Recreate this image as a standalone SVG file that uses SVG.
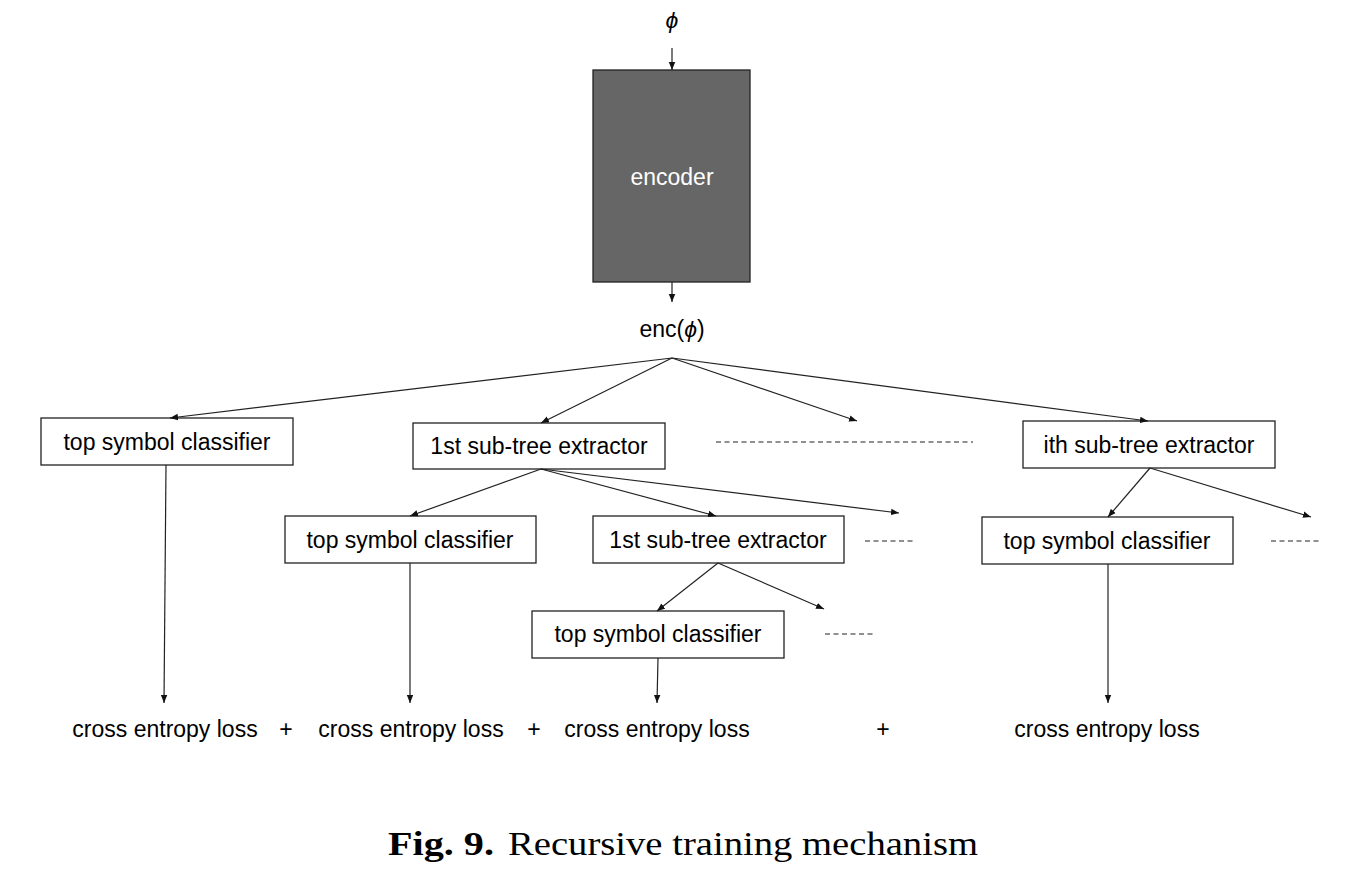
<svg xmlns="http://www.w3.org/2000/svg" width="1359" height="882" viewBox="0 0 1359 882">
<defs>
<marker id="ah" viewBox="0 0 10 10" refX="10" refY="5" markerWidth="8" markerHeight="8" markerUnits="userSpaceOnUse" orient="auto">
<path d="M0,1 L10,5 L0,9 z" fill="#111"/>
</marker>
<style>
.box{fill:#fff;stroke:#222;stroke-width:1.3}
.lbl{font-family:"Liberation Sans",Arial,sans-serif;font-size:23px;fill:#000;text-anchor:middle}
.c{stroke:#222;stroke-width:1.2;fill:none}
.a{stroke:#222;stroke-width:1.2;fill:none;marker-end:url(#ah)}
.d{stroke:#222;stroke-width:1.2;stroke-dasharray:5 3.5;fill:none}
</style>
</defs>
<rect width="1359" height="882" fill="#fff"/>

<text class="lbl" x="672" y="28" font-style="italic">ϕ</text>

<g id="encoder">
<rect x="593" y="70" width="157" height="212" fill="#666" stroke="#222" stroke-width="1.3"/>
<text class="lbl" x="672" y="185" style="fill:#fff">encoder</text>
</g>
<g id="enc-label"><text class="lbl" x="672" y="337">enc(<tspan font-style="italic">ϕ</tspan>)</text></g>

<g id="tsc1"><rect class="box" x="41" y="418" width="252" height="47"/><text class="lbl" x="167" y="450">top symbol classifier</text></g>
<g id="ste1"><rect class="box" x="413" y="423" width="252" height="46"/><text class="lbl" x="539" y="454">1st sub-tree extractor</text></g>
<g id="ithste"><rect class="box" x="1023" y="421" width="252" height="47"/><text class="lbl" x="1149" y="453">ith sub-tree extractor</text></g>
<g id="tsc2"><rect class="box" x="285" y="516" width="251" height="47"/><text class="lbl" x="410" y="548">top symbol classifier</text></g>
<g id="ste2"><rect class="box" x="593" y="516" width="251" height="47"/><text class="lbl" x="718" y="548">1st sub-tree extractor</text></g>
<g id="tsc3"><rect class="box" x="532" y="611" width="252" height="47"/><text class="lbl" x="658" y="642">top symbol classifier</text></g>
<g id="tsc4"><rect class="box" x="982" y="517" width="251" height="47"/><text class="lbl" x="1107" y="549">top symbol classifier</text></g>

<g id="losses">
<text class="lbl" x="165" y="737">cross entropy loss</text>
<text class="lbl" x="286" y="737">+</text>
<text class="lbl" x="411" y="737">cross entropy loss</text>
<text class="lbl" x="534" y="737">+</text>
<text class="lbl" x="657" y="737">cross entropy loss</text>
<text class="lbl" x="883" y="737">+</text>
<text class="lbl" x="1107" y="737">cross entropy loss</text>
</g>

<g id="connectors">
<line class="a" x1="672" y1="48" x2="672" y2="70"/>
<line class="a" x1="672" y1="282" x2="672" y2="302"/>
<line class="a" x1="672" y1="358" x2="170" y2="418"/>
<line class="a" x1="672" y1="358" x2="541" y2="423"/>
<line class="a" x1="672" y1="358" x2="857" y2="421"/>
<line class="a" x1="672" y1="358" x2="1148" y2="421"/>
<line class="d" x1="716" y1="442" x2="973" y2="442"/>
<line class="a" x1="541" y1="469" x2="410" y2="516"/>
<line class="a" x1="541" y1="469" x2="716" y2="516"/>
<line class="a" x1="541" y1="469" x2="899" y2="513"/>
<line class="d" x1="865" y1="541" x2="914" y2="541"/>
<line class="a" x1="718" y1="563" x2="657" y2="611"/>
<line class="a" x1="718" y1="563" x2="824" y2="609"/>
<line class="d" x1="825" y1="634" x2="873" y2="634"/>
<line class="a" x1="1150" y1="468" x2="1108" y2="517"/>
<line class="a" x1="1150" y1="468" x2="1311" y2="517"/>
<line class="d" x1="1271" y1="541" x2="1320" y2="541"/>
<line class="a" x1="166" y1="465" x2="164" y2="703"/>
<line class="a" x1="410" y1="563" x2="410" y2="703"/>
<line class="a" x1="658" y1="658" x2="657" y2="703"/>
<line class="a" x1="1108" y1="564" x2="1108" y2="703"/>
</g>

<g id="caption" font-family="'Liberation Serif','Times New Roman',serif" font-size="34" fill="#000">
<text x="388" y="855" font-weight="bold" textLength="106" lengthAdjust="spacingAndGlyphs">Fig. 9.</text>
<text x="508" y="855" textLength="470" lengthAdjust="spacingAndGlyphs">Recursive training mechanism</text>
</g>
</svg>
